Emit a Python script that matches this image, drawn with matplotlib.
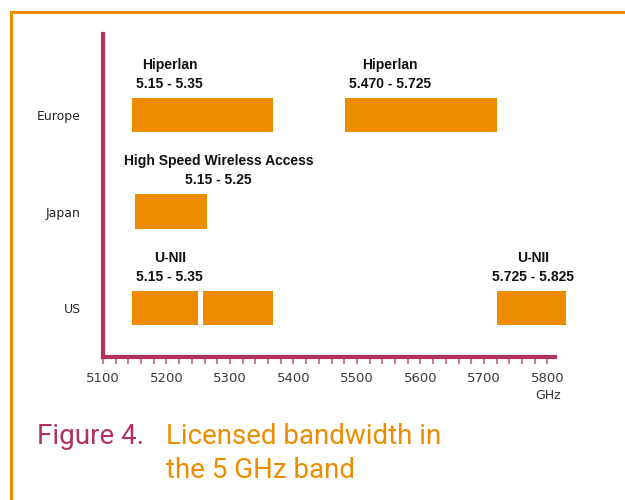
import matplotlib.pyplot as plt
from matplotlib.lines import Line2D
import numpy as np

# Band data (MHz)
regions = ['US', 'Japan', 'Europe']
bar_region = ['Europe', 'Europe', 'Japan', 'US', 'US', 'US']
bar_start = [5145, 5481, 5150, 5145, 5258, 5721]
bar_end = [5368, 5720, 5264, 5250, 5368, 5829]

label_region = ['Europe', 'Europe', 'Japan', 'US', 'US']
label_text = ['Hiperlan\n5.15 - 5.35', 'Hiperlan\n5.470 - 5.725',
              'High Speed Wireless Access\n5.15 - 5.25', 'U-NII\n5.15 - 5.35',
              'U-NII\n5.725 - 5.825']
label_x = [5205, 5552, 5282, 5205, 5778]

x_ticks = list(range(5100, 5801, 100))

orange = '#ee8c00'
crimson = '#b3325c'

fig = plt.figure(figsize=(6.25, 5), dpi=100)
W, H = 625, 500

# orange frame lines
fig.add_artist(Line2D([11 / W, 1], [1 - 12 / H, 1 - 12 / H], color=orange, lw=2.2, transform=fig.transFigure))
fig.add_artist(Line2D([11 / W, 11 / W], [0, 1 - 12 / H], color=orange, lw=2.2, transform=fig.transFigure))

ax = fig.add_axes([103 / W, 1 - 357 / H, 452 / W, 323 / H])
ypos = {r: i for i, r in enumerate(regions)}
bh = 0.36
for reg, s, e in zip(bar_region, bar_start, bar_end):
    ax.barh(ypos[reg], e - s, left=s, height=bh, color=orange, clip_on=False)

for reg, txt, x in zip(label_region, label_text, label_x):
    ax.annotate(txt, xy=(x, ypos[reg] + bh / 2), xytext=(0, 5), textcoords='offset points',
                ha='center', va='bottom', multialignment='center', fontsize=10,
                fontweight='bold', family='Liberation Sans', color='#111111', linespacing=1.45)

ax.set_xlim(5100, 5812)
ax.set_ylim(-0.508, 2.84)
ax.set_yticks([ypos[r] for r in regions])
ax.set_yticklabels(regions, fontsize=9, color='#222222')
ax.tick_params(axis='y', length=0, pad=16)
ax.set_xticks(x_ticks)
ax.set_xticklabels([str(t) for t in x_ticks], fontsize=9.5, color='#3a3a3a')
ax.set_xticks(np.arange(5120, 5801, 20), minor=True)
ax.tick_params(axis='x', which='both', length=5, width=1.2, color='#c9607f', pad=6)
for sp in ['top', 'right']:
    ax.spines[sp].set_visible(False)
for sp in ['left', 'bottom']:
    ax.spines[sp].set_color(crimson)
    ax.spines[sp].set_linewidth(3)
ax.text(0.985, -0.118, 'GHz', transform=ax.transAxes, ha='center', va='center', fontsize=9, color='#333333')

cap_font = ['Roboto', 'DejaVu Sans']
fig.text(37 / W, 1 - 436 / H, 'Figure 4.', fontsize=20, color=crimson, family=cap_font, va='center')
fig.text(166 / W, 1 - 436 / H, 'Licensed bandwidth in', fontsize=20, color=orange, family=cap_font, va='center')
fig.text(166 / W, 1 - 471 / H, 'the 5 GHz band', fontsize=20, color=orange, family=cap_font, va='center')

fig.savefig('out.png', dpi=100)
